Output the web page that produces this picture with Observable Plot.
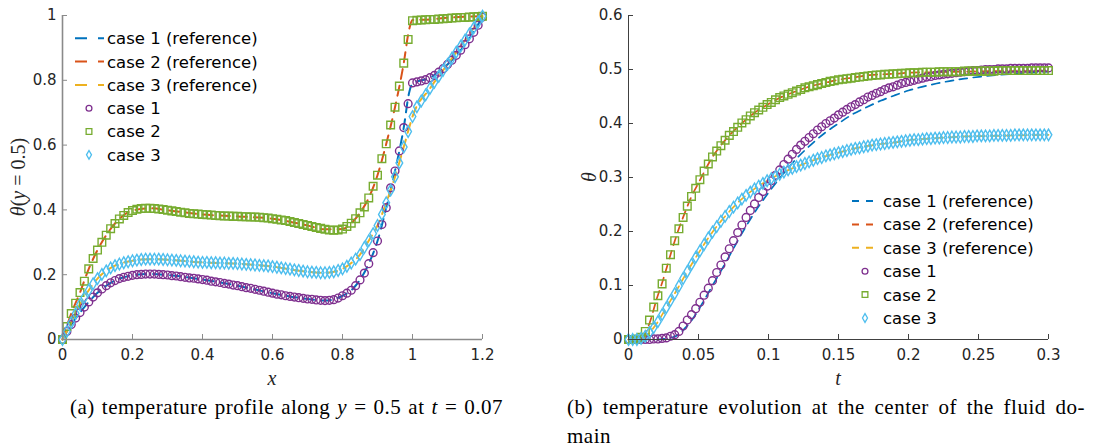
<!DOCTYPE html>
<html><head><meta charset="utf-8">
<script src="https://cdn.jsdelivr.net/npm/d3@7"></script>
<script src="https://cdn.jsdelivr.net/npm/@observablehq/plot@0.6"></script>
<style>
body{margin:0;background:#fff;width:1101px;height:446px;overflow:hidden;position:relative;font-family:"DejaVu Sans",sans-serif;}
#pa{position:absolute;left:0;top:0;}
#pb{position:absolute;left:550px;top:0;}
.cap{position:absolute;font-family:"Liberation Serif",serif;font-size:21px;letter-spacing:0.5px;color:#000;line-height:29px;white-space:nowrap;}
.just{text-align:justify;text-align-last:justify;white-space:normal;}
</style></head><body>
<div id="pa"></div><div id="pb"></div>
<div class="cap just" style="left:70px;top:393px;width:433px;">(a) temperature profile along <i>y</i> = 0.5 at <i>t</i> = 0.07</div>
<div class="cap" style="left:567px;top:393px;width:518px;"><div class="just">(b) temperature evolution at the center of the fluid do-</div><div>main</div></div>
<script>
// ---------- Panel (a): theta(y=0.5) vs x at t = 0.07 ----------
const xStepA = 0.0125;          // spacing of the simulation samples along x
const case1A = [0.000,0.025,0.046,0.066,0.083,0.100,0.116,0.131,0.144,0.156,0.166,0.175,0.182,0.188,0.192,0.195,0.198,0.200,0.201,0.202,0.202,0.202,0.201,0.200,0.199,0.197,0.196,0.194,0.192,0.190,0.189,0.187,0.185,0.183,0.180,0.178,0.176,0.173,0.171,0.168,0.166,0.163,0.160,0.158,0.155,0.152,0.149,0.146,0.143,0.140,0.138,0.135,0.133,0.131,0.129,0.127,0.125,0.124,0.122,0.121,0.120,0.121,0.123,0.128,0.135,0.143,0.152,0.166,0.184,0.205,0.234,0.268,0.304,0.355,0.407,0.468,0.520,0.582,0.654,0.728,0.792,0.795,0.798,0.802,0.808,0.815,0.825,0.836,0.849,0.862,0.877,0.893,0.910,0.928,0.948,0.970,0.995];
const case2A = [0.000,0.040,0.080,0.112,0.145,0.180,0.218,0.250,0.276,0.300,0.322,0.342,0.358,0.372,0.383,0.392,0.398,0.402,0.404,0.405,0.405,0.404,0.403,0.401,0.399,0.397,0.395,0.393,0.391,0.389,0.388,0.387,0.386,0.385,0.384,0.383,0.382,0.381,0.381,0.380,0.380,0.379,0.379,0.378,0.378,0.377,0.376,0.375,0.373,0.371,0.369,0.367,0.364,0.361,0.358,0.355,0.352,0.349,0.346,0.343,0.340,0.338,0.337,0.338,0.341,0.349,0.359,0.373,0.391,0.409,0.437,0.473,0.507,0.558,0.604,0.662,0.717,0.782,0.853,0.926,0.984,0.985,0.986,0.987,0.988,0.988,0.989,0.990,0.991,0.992,0.993,0.994,0.994,0.995,0.996,0.997,0.998];
const case3A = [0.000,0.025,0.052,0.080,0.108,0.130,0.152,0.172,0.188,0.201,0.212,0.221,0.228,0.233,0.237,0.240,0.243,0.245,0.247,0.248,0.248,0.248,0.248,0.247,0.246,0.245,0.244,0.243,0.242,0.241,0.240,0.239,0.238,0.238,0.237,0.237,0.236,0.236,0.235,0.235,0.234,0.233,0.232,0.231,0.230,0.229,0.228,0.227,0.225,0.223,0.221,0.219,0.217,0.215,0.213,0.211,0.209,0.208,0.207,0.206,0.206,0.207,0.209,0.213,0.218,0.226,0.236,0.248,0.262,0.284,0.305,0.327,0.352,0.386,0.422,0.461,0.502,0.545,0.594,0.642,0.688,0.718,0.736,0.755,0.775,0.794,0.812,0.831,0.849,0.868,0.887,0.905,0.924,0.943,0.962,0.980,0.998];
const refXA  = [0,0.025,0.05,0.075,0.1,0.125,0.15,0.2,0.25,0.3,0.4,0.5,0.6,0.7,0.75,0.8,0.825,0.85,0.875,0.9,0.925,0.95,0.975,0.99,1.0,1.05,1.1,1.15,1.2];
const ref1A  = [0,0.046,0.083,0.116,0.144,0.166,0.182,0.198,0.202,0.199,0.185,0.166,0.143,0.125,0.120,0.135,0.152,0.184,0.234,0.304,0.407,0.520,0.654,0.760,0.790,0.808,0.849,0.910,0.995];
const ref2A  = [0,0.080,0.145,0.218,0.276,0.322,0.358,0.398,0.405,0.399,0.386,0.380,0.373,0.352,0.340,0.341,0.359,0.391,0.437,0.507,0.604,0.717,0.853,0.955,0.986,0.988,0.993,0.996,0.998];
const ref3A  = [0,0.052,0.108,0.152,0.188,0.212,0.228,0.243,0.248,0.246,0.238,0.234,0.225,0.209,0.206,0.218,0.236,0.262,0.305,0.352,0.422,0.502,0.594,0.652,0.688,0.775,0.849,0.924,0.998];
const xTicksA = [0,0.2,0.4,0.6,0.8,1,1.2];
const yTicksA = [0,0.2,0.4,0.6,0.8,1];

// ---------- Panel (b): theta at the centre vs t ----------
const tStepB = 0.003;           // spacing of the simulation samples in t
const case1B = [0,0,0,0,0,0,0.001,0.001,0.002,0.003,0.006,0.009,0.015,0.025,0.036,0.046,0.057,0.069,0.082,0.095,0.109,0.124,0.138,0.153,0.168,0.183,0.198,0.212,0.226,0.239,0.251,0.263,0.274,0.284,0.294,0.304,0.314,0.324,0.334,0.343,0.352,0.360,0.367,0.374,0.381,0.388,0.394,0.400,0.405,0.410,0.416,0.421,0.426,0.431,0.435,0.440,0.444,0.449,0.452,0.456,0.459,0.463,0.466,0.468,0.471,0.474,0.476,0.478,0.480,0.482,0.484,0.486,0.487,0.489,0.490,0.491,0.492,0.493,0.494,0.495,0.496,0.497,0.498,0.498,0.499,0.500,0.500,0.500,0.501,0.501,0.501,0.502,0.502,0.502,0.502,0.502,0.503,0.503,0.503,0.503,0.503];
const case2B = [0,0,0.001,0.004,0.015,0.036,0.060,0.081,0.103,0.132,0.157,0.183,0.205,0.226,0.247,0.265,0.280,0.296,0.312,0.325,0.338,0.349,0.359,0.369,0.378,0.385,0.393,0.401,0.407,0.414,0.420,0.425,0.430,0.435,0.439,0.444,0.448,0.451,0.454,0.457,0.460,0.463,0.466,0.468,0.470,0.472,0.474,0.476,0.478,0.479,0.481,0.482,0.483,0.484,0.485,0.486,0.487,0.488,0.489,0.490,0.490,0.491,0.491,0.492,0.492,0.493,0.493,0.494,0.494,0.494,0.495,0.495,0.495,0.495,0.496,0.496,0.496,0.496,0.496,0.496,0.497,0.497,0.497,0.497,0.497,0.497,0.497,0.497,0.498,0.498,0.498,0.498,0.498,0.498,0.498,0.498,0.498,0.498,0.498,0.498,0.498];
const case3B = [0,0,0,0.002,0.006,0.013,0.022,0.033,0.046,0.059,0.072,0.085,0.099,0.113,0.126,0.139,0.152,0.164,0.176,0.188,0.199,0.209,0.219,0.228,0.237,0.245,0.253,0.260,0.267,0.273,0.279,0.284,0.289,0.294,0.298,0.302,0.306,0.310,0.314,0.317,0.320,0.323,0.326,0.329,0.332,0.335,0.337,0.340,0.342,0.344,0.346,0.348,0.350,0.352,0.354,0.355,0.357,0.358,0.360,0.361,0.362,0.363,0.364,0.365,0.366,0.367,0.368,0.369,0.370,0.370,0.371,0.372,0.372,0.373,0.373,0.374,0.374,0.375,0.375,0.375,0.376,0.376,0.376,0.377,0.377,0.377,0.377,0.378,0.378,0.378,0.378,0.378,0.379,0.379,0.379,0.379,0.379,0.379,0.379,0.379,0.379];
const refTB  = [0,0.005,0.01,0.015,0.02,0.025,0.03,0.035,0.04,0.045,0.05,0.06,0.07,0.08,0.09,0.1,0.11,0.12,0.13,0.14,0.15,0.16,0.17,0.18,0.19,0.2,0.22,0.24,0.26,0.28,0.3];
const ref1B  = [0,0,0,0,0,0.001,0.003,0.008,0.020,0.035,0.055,0.100,0.145,0.192,0.235,0.272,0.305,0.335,0.360,0.382,0.400,0.417,0.430,0.442,0.452,0.461,0.474,0.483,0.489,0.493,0.496];
const ref2B  = [0,0,0.004,0.030,0.074,0.113,0.157,0.198,0.233,0.265,0.290,0.338,0.372,0.398,0.420,0.436,0.450,0.460,0.469,0.475,0.481,0.485,0.489,0.491,0.492,0.494,0.495,0.496,0.497,0.497,0.498];
const ref3B  = [0,0,0.003,0.013,0.029,0.050,0.072,0.094,0.117,0.139,0.160,0.199,0.231,0.258,0.279,0.295,0.309,0.320,0.330,0.339,0.346,0.353,0.358,0.362,0.365,0.369,0.373,0.376,0.377,0.378,0.379];
const xTicksB = [0,0.05,0.1,0.15,0.2,0.25,0.3];
const yTicksB = [0,0.1,0.2,0.3,0.4,0.5,0.6];

const legendLabels = ["case 1 (reference)","case 2 (reference)","case 3 (reference)","case 1","case 2","case 3"];
const refColors  = ["#0072BD","#D95319","#EDB120"];
const markColors = ["#7E2F8E","#77AC30","#4DBEEE"];
const markSymbols = ["circle","square","diamond"];
const markR = [3.9,4.3,3.5];

const fmt = d3.format("~g");
const pairs = (xs, ys) => ys.map((y, i) => ({x: xs[i], y}));
const grid = (step, n) => d3.range(n).map(i => +(i * step).toFixed(6));

function panel(o) {
  const plotW = o.width - o.ml - o.mr, plotH = o.height - o.mt - o.mb;
  const gx = grid(o.step, o.series[0].length);
  const marks = [];
  o.refs.forEach((r, k) => marks.push(Plot.line(pairs(o.refX, r), {
    x: "x", y: "y", stroke: refColors[k], strokeWidth: o.lw, strokeDasharray: o.dash, curve: "monotone-x"
  })));
  o.series.forEach((s, k) => marks.push(Plot.dot(pairs(gx, s), {
    x: "x", y: "y", symbol: markSymbols[k], r: markR[k], stroke: markColors[k], strokeWidth: 1.4, fill: "none"
  })));
  marks.push(
    Plot.ruleX([o.xDomain[0]], {stroke: o.axisColor, strokeWidth: o.axisW}),
    Plot.ruleY([o.yDomain[0]], {stroke: o.axisColor, strokeWidth: o.axisW}),
    Plot.tickX(o.xTicks, {x: d => d, stroke: o.axisColor, insetTop: plotH - 5}),
    Plot.tickY(o.yTicks, {y: d => d, stroke: o.axisColor, insetRight: plotW - 5}),
    Plot.axisX(o.xTicks, {tickSize: 0, tickPadding: 10, tickFormat: fmt, fontSize: 15, fill: "#262626", label: null}),
    Plot.axisY(o.yTicks, {tickSize: 0, tickPadding: 6, tickFormat: fmt, fontSize: 15, fill: "#262626", label: null})
  );
  const svg = Plot.plot({
    width: o.width, height: o.height,
    marginLeft: o.ml, marginRight: o.mr, marginTop: o.mt, marginBottom: o.mb,
    x: {domain: o.xDomain}, y: {domain: o.yDomain},
    style: {fontFamily: "DejaVu Sans, sans-serif", fontSize: "15px", background: "transparent", overflow: "visible"},
    marks
  });
  const sel = d3.select(svg);
  // legend
  const lg = sel.append("g").attr("text-anchor", "start");
  legendLabels.forEach((lab, k) => {
    const y = o.lg.y0 + k * o.lg.dy;
    if (k < 3) {
      lg.append("line").attr("x1", o.lg.l0).attr("x2", o.lg.l1).attr("y1", y).attr("y2", y)
        .attr("stroke", refColors[k]).attr("stroke-width", 2).attr("stroke-dasharray", o.lg.dash);
    } else {
      const j = k - 3, rr = markR[j] * 0.75;
      const sym = [d3.symbolCircle, d3.symbolSquare, d3.symbolDiamond][j];
      lg.append("path").attr("d", d3.symbol(sym, Math.PI * rr * rr)())
        .attr("transform", `translate(${o.lg.mx},${y})`)
        .attr("fill", "none").attr("stroke", markColors[j]).attr("stroke-width", 1.3);
    }
    lg.append("text").attr("x", o.lg.tx).attr("y", y).attr("dy", "0.36em").attr("text-anchor", "start")
      .attr("font-family", "DejaVu Sans, sans-serif").attr("font-size", 16.5).attr("fill", "#000").text(lab);
  });
  // axis labels (LaTeX-like)
  sel.append("text").attr("x", o.ml + plotW / 2).attr("y", o.mt + plotH + 39).attr("dy", "0.35em")
    .attr("text-anchor", "middle").attr("font-family", "Liberation Serif, serif").attr("font-size", 20)
    .attr("font-style", "italic").attr("fill", "#262626").text(o.xLabel);
  const yl = sel.append("text").attr("transform", `translate(${o.yLabelX},${o.mt + plotH / 2}) rotate(-90)`)
    .attr("dy", "0.35em").attr("text-anchor", "middle").attr("font-family", "Liberation Serif, serif")
    .attr("font-size", 20).attr("fill", "#262626");
  o.yLabel.forEach(([t, it]) => yl.append("tspan").attr("font-style", it ? "italic" : "normal").text(t));
  return svg;
}

document.getElementById("pa").appendChild(panel({
  width: 550, height: 390, ml: 62, mr: 68, mt: 15, mb: 51,
  xDomain: [0, 1.2], yDomain: [0, 1], xTicks: xTicksA, yTicks: yTicksA,
  step: xStepA, series: [case1A, case2A, case3A], refX: refXA, refs: [ref1A, ref2A, ref3A],
  dash: "10,7", lw: 2, axisColor: "#8a8a8a", axisW: 1.6,
  lg: {y0: 38.3, dy: 23.3, l0: 75, l1: 104, mx: 89, tx: 107, dash: "12,11"},
  xLabel: "x", yLabelX: 18, yLabel: [["θ", true], ["(", false], ["y", true], [" = 0.5)", false]]
}));
document.getElementById("pb").appendChild(panel({
  width: 551, height: 390, ml: 78, mr: 53, mt: 15, mb: 51,
  xDomain: [0, 0.3], yDomain: [0, 0.6], xTicks: xTicksB, yTicks: yTicksB,
  step: tStepB, series: [case1B, case2B, case3B], refX: refTB, refs: [ref1B, ref2B, ref3B],
  dash: "8,6", lw: 1.7, axisColor: "#404040", axisW: 1,
  lg: {y0: 201, dy: 23.4, l0: 302, l1: 323, mx: 315, tx: 333, dash: "7,7"},
  xLabel: "t", yLabelX: 39, yLabel: [["θ", true]]
}));
</script>
</body></html>
